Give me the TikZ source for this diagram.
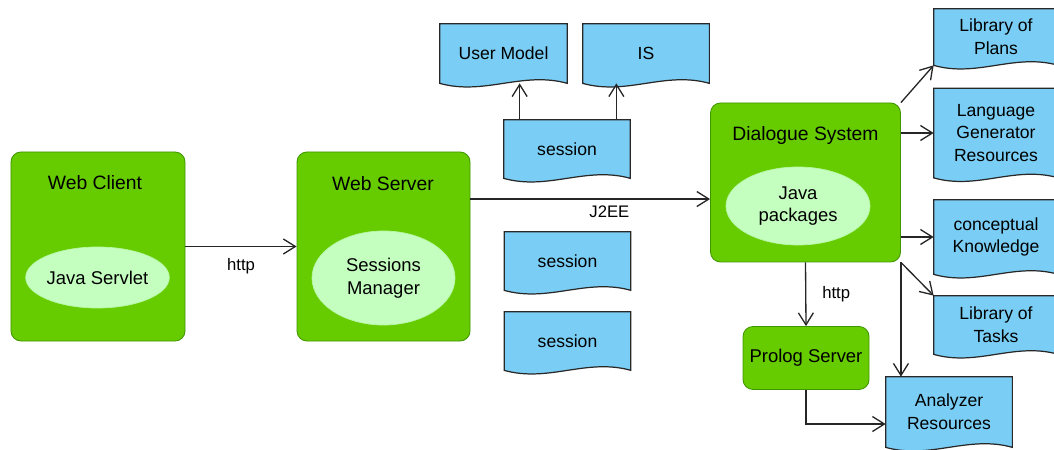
\documentclass[tikz,border=0pt]{standalone}
\usepackage{fontspec}
\setmainfont{Liberation Sans}
\usetikzlibrary{arrows.meta,calc,positioning,shapes.geometric,backgrounds}
\definecolor{boxgreen}{RGB}{102,204,0}
\definecolor{edgegreen}{RGB}{64,150,0}
\definecolor{ovalgreen}{RGB}{196,255,192}
\definecolor{docblue}{RGB}{122,206,245}
\definecolor{docedge}{RGB}{40,40,40}
\newcommand\docpath[1]{(#1.north west) -- (#1.north east) -- (#1.south east) .. controls ($(#1.south east)!.35!(#1.south west)+(0,2.5mm)$) and ($(#1.south west)!.35!(#1.south east)-(0,2.5mm)$) .. (#1.south west) -- cycle}

\begin{document}
\begin{tikzpicture}[x=0.2mm, y=-0.2mm,
    greenbox/.style = {draw=edgegreen, fill=boxgreen, rounded corners=2mm, line width=0.5pt},
    title/.style = {font=\fontsize{11}{13}\selectfont},
    oval/.style = {ellipse, fill=ovalgreen, draw=ovalgreen!85!boxgreen, inner sep=0pt, align=center, font=\fontsize{10.5}{13}\selectfont},
    doc/.style = {align=center, inner sep=0pt, minimum width=25.2mm, font=\fontsize{10}{13}\selectfont},
    docline/.style = {draw=docedge, fill=docblue, line width=0.7pt},
    arr/.style = {-{Straight Barb[length=2.4mm,width=3mm]}, line width=0.75pt, draw=black!85},
    lbl/.style = {font=\fontsize{9.5}{11}\selectfont}]
    \useasboundingbox (0,0) rectangle (1054,450);
    \clip (0,0) rectangle (1054,450);
    \node[greenbox, minimum width=34.8mm, minimum height=37.8mm] (wc) at (98,246.5) {};
    \node[title] (wctitle) at (95,183) {Web Client};
    \node[oval, minimum width=28.6mm, minimum height=12.2mm] (servlet) at (97.5,277.5) {Java Servlet};
    \node[greenbox, minimum width=34.6mm, minimum height=37.8mm] (ws) at (383.5,246.5) {};
    \node[title] (wstitle) at (383,184) {Web Server};
    \node[oval, minimum width=28.6mm, minimum height=18.8mm] (sessmgr) at (383.5,278) {Sessions\\Manager};
    \node[greenbox, minimum width=38mm, minimum height=31.8mm] (ds) at (805.5,182.5) {};
    \node[title] (dstitle) at (805.5,136) {Dialogue System};
    \node[oval, minimum width=28.8mm, minimum height=15.6mm] (javapkg) at (798,206) {Java\\packages};
    \node[greenbox, minimum width=25.2mm, minimum height=12.6mm, font=\fontsize{10.5}{13}\selectfont] (ps) at (806,358) {Prolog Server};
    \node[doc, minimum width=25.4mm, minimum height=11.8mm] (um) at (503.5,53.5) {User Model};
    \node[doc, minimum height=11.8mm] (is) at (646,53.5) {IS};
    \node[doc, minimum height=11.6mm] (s1) at (567,149) {session};
    \node[doc, minimum height=11.6mm] (s2) at (567.5,261) {session};
    \node[doc, minimum height=11.6mm] (s3) at (567.5,341) {session};
    \node[doc, minimum width=24.8mm, minimum height=11.2mm] (lp) at (996,37) {Library of\\Plans};
    \node[doc, minimum width=24.8mm, minimum height=17.8mm] (lg) at (996,133) {Language\\Generator\\Resources};
    \node[doc, minimum width=24.8mm, minimum height=14.8mm] (ck) at (996,237) {conceptual\\Knowledge};
    \node[doc, minimum width=24.8mm, minimum height=11.6mm] (lt) at (996,325) {Library of\\Tasks};
    \node[doc, minimum height=14mm] (ar) at (949,412) {Analyzer\\Resources};
    \begin{scope}[on background layer]
        \draw[docline] \docpath{um};
        \draw[docline] \docpath{is};
        \draw[docline] \docpath{s1};
        \draw[docline] \docpath{s2};
        \draw[docline] \docpath{s3};
        \draw[docline] \docpath{lp};
        \draw[docline] \docpath{lg};
        \draw[docline] \docpath{ck};
        \draw[docline] \docpath{lt};
        \draw[docline] \docpath{ar};
    \end{scope}
    \coordinate (j2ee) at ($(ws.north east)!.25!(ws.south east)$);
    \draw[arr] (wc.east) -- node[lbl, midway, below=1mm] {http} (ws.west);
    \draw[arr] (j2ee) -- node[lbl, pos=.58, below] {J2EE} (j2ee -| ds.west);
    \draw[arr] ([xshift=3.2mm]s1.north west) -- ([xshift=3.2mm]s1.north west |- um.south);
    \draw[arr] ([xshift=-2.8mm]s1.north east) -- ([xshift=-2.8mm]s1.north east |- is.south);
    \draw[arr] (ds.north east) -- (lp.south west);
    \draw[arr] (ds.east |- lg) -- (lg.west);
    \draw[arr] (ds.east |- ck) -- (ck.west);
    \draw[arr] (ds.south east) -- (lt.north west);
    \draw[arr] (ds.south east) -- (ds.south east |- ar.north);
    \draw[arr] (ds.south) -- node[lbl, midway, right=2mm] {http} (ps.north);
    \draw[arr] (ps.south) |- ($(ar.north west)!.67!(ar.south west)$);
\end{tikzpicture}
\end{document}
